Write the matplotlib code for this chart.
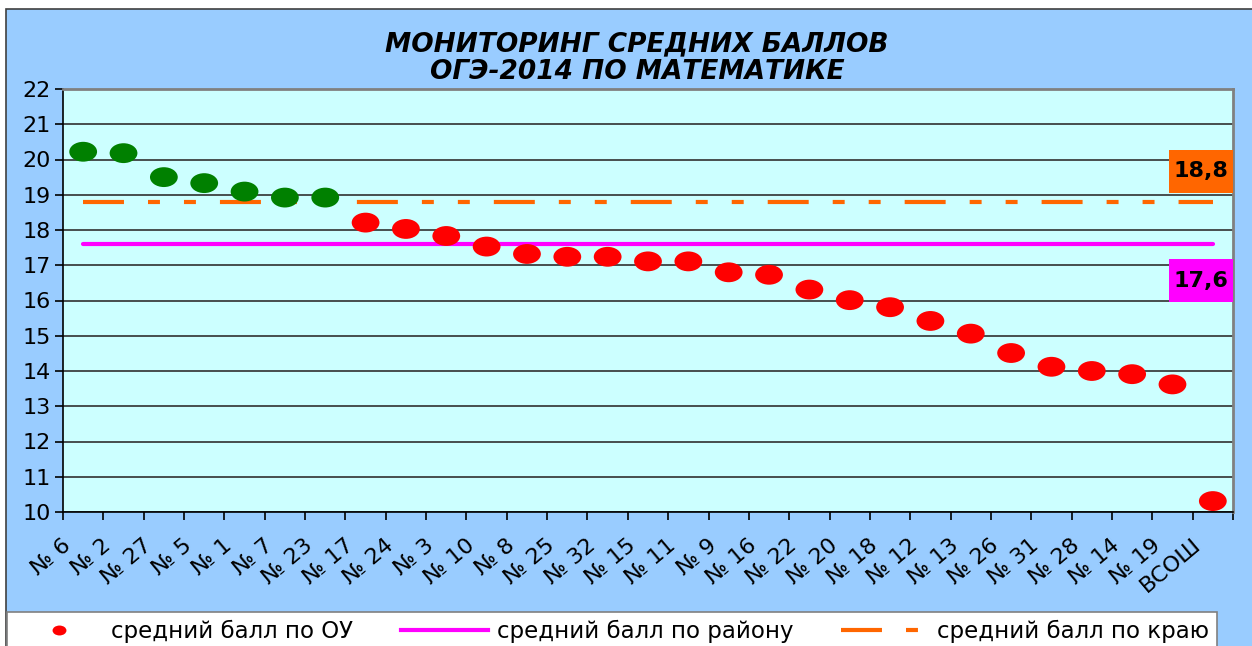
import matplotlib
matplotlib.use('Agg')
import matplotlib.pyplot as plt
import numpy as np
from matplotlib.path import Path
from matplotlib.transforms import Affine2D, ScaledTranslation
from matplotlib.patches import Rectangle
from matplotlib.lines import Line2D

plt.rcParams['font.family'] = ['DejaVu Sans']
plt.rcParams['lines.scale_dashes'] = False

schools = ['№ 6', '№ 2', '№ 27', '№ 5', '№ 1', '№ 7', '№ 23', '№ 17', '№ 24', '№ 3',
           '№ 10', '№ 8', '№ 25', '№ 32', '№ 15', '№ 11', '№ 9', '№ 16', '№ 22', '№ 20',
           '№ 18', '№ 12', '№ 13', '№ 26', '№ 31', '№ 28', '№ 14', '№ 19', 'ВСОШ']
scores = [20.22, 20.18, 19.5, 19.33, 19.09, 18.92, 18.92, 18.21, 18.03, 17.83,
          17.53, 17.32, 17.24, 17.24, 17.11, 17.11, 16.8, 16.73, 16.31, 16.01,
          15.81, 15.42, 15.06, 14.51, 14.12, 14.0, 13.91, 13.62, 10.31]
district_avg = 17.6
krai_avg = 18.8

title_lines = ['МОНИТОРИНГ СРЕДНИХ БАЛЛОВ', 'ОГЭ-2014 ПО МАТЕМАТИКЕ']
legend_labels = ['средний балл по ОУ', 'средний балл по району', 'средний балл по краю']

W, H = 1252, 646
fig = plt.figure(figsize=(W / 100, H / 100), dpi=100)
fig.patch.set_facecolor('white')

# blue chart area background
fig.add_artist(Rectangle((6 / W, -0.01), 1.0, (H - 9) / H + 0.01, transform=fig.transFigure,
                         facecolor='#99CCFF', edgecolor='#404040', lw=1.2, zorder=-10))

ax = fig.add_axes([63 / W, (H - 512) / H, 1170 / W, 423 / H])
ax.set_facecolor('#CCFFFF')

x = np.arange(len(schools))
colors = ['#008000' if s > krai_avg else '#FF0000' for s in scores]

# elliptical marker like the stretched original
ell = Affine2D().scale(1.4, 1.0).transform_path(Path.unit_circle())

ax.plot([x[0], x[-1]], [district_avg, district_avg], color='#FF00FF', lw=3,
        solid_capstyle='round', zorder=3)
ax.plot([x[0], x[-1]], [krai_avg, krai_avg], color='#FF6600', lw=3,
        dashes=[29.5, 17.3, 8.6, 17.3, 8.6, 17.3], zorder=3)
ax.scatter(x, scores, s=20 ** 2, marker=ell, c=colors, linewidths=0, zorder=4)

ax.set_xlim(-0.5, len(schools) - 0.5)
ax.set_ylim(10, 22)
ax.set_yticks(range(10, 23))
ax.tick_params(axis='y', labelsize=16, length=6, width=1.2, direction='out', pad=3)
ax.yaxis.grid(True, color='#303030', lw=1.2)
ax.set_axisbelow(True)

ax.set_xticks(np.arange(-0.5, len(schools), 1))
ax.set_xticklabels([])
ax.tick_params(axis='x', which='major', length=6, width=1.2, direction='out')
ax.set_xticks(x, minor=True)
ax.set_xticklabels(schools, minor=True, rotation=40, ha='right', va='center',
                   rotation_mode='anchor', fontsize=16)
ax.tick_params(axis='x', which='minor', length=0, pad=22)
shift = ScaledTranslation(-0.15, 0, fig.dpi_scale_trans)
for lab in ax.get_xticklabels(minor=True):
    lab.set_transform(lab.get_transform() + shift)

for side in ['left', 'bottom']:
    ax.spines[side].set_color('black')
    ax.spines[side].set_linewidth(1.2)
for side in ['top', 'right']:
    ax.spines[side].set_color('#808080')
    ax.spines[side].set_linewidth(2)

# value boxes at the right edge
for val, col, top in [(krai_avg, '#FF6600', 150), (district_avg, '#FF00FF', 259)]:
    fig.add_artist(Rectangle((1169 / W, (H - top - 43) / H), 64 / W, 43 / H,
                             transform=fig.transFigure, facecolor=col,
                             edgecolor='none', zorder=5))
    fig.text(1201 / W, (H - top - 21.5) / H, f'{val:.1f}'.replace('.', ','),
             ha='center', va='center', fontsize=16, fontweight='bold', color='black', zorder=6)

fig.text(637 / W, 1 - 44 / H, title_lines[0], ha='center', va='center',
         fontsize=19, fontweight='bold', style='italic')
fig.text(637 / W, 1 - 72 / H, title_lines[1], ha='center', va='center',
         fontsize=19, fontweight='bold', style='italic')

handles = [
    Line2D([], [], ls='none', marker=ell, markersize=10, color='#FF0000', markeredgewidth=0),
    Line2D([], [], color='#FF00FF', lw=3),
    Line2D([], [], color='#FF6600', lw=3, dashes=[29.5, 17.3, 8.6, 17.3]),
]
leg = fig.legend(handles, legend_labels, loc='upper left', ncol=3, mode='expand',
                 bbox_to_anchor=(7 / W, 0, 1210 / W, (H - 612) / H), borderaxespad=0,
                 fontsize=16.5, handlelength=3.8, handletextpad=0.4, borderpad=0.35,
                 fancybox=False, framealpha=1, edgecolor='#808080')
leg.get_frame().set_linewidth(1.2)

fig.savefig('out.png', dpi=100)
